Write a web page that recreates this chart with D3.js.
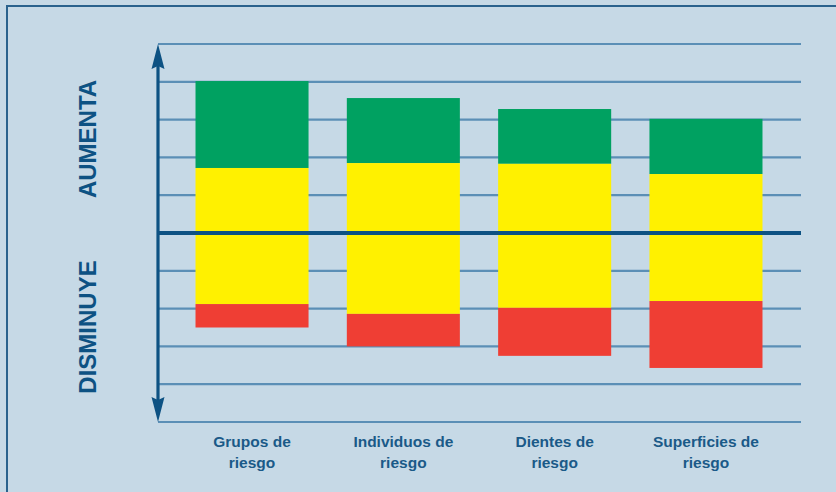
<!DOCTYPE html>
<html>
<head>
<meta charset="utf-8">
<script src="https://cdn.jsdelivr.net/npm/d3@7"></script>
<style>
	html, body { margin: 0; padding: 0; background: #fff; }
	svg { display: block; }
</style>
</head>
<body>
<svg width="836" height="492"></svg>
<script>
// values in grid units (one grid step = 1), 0 is the thick middle line
const categories = [['Grupos de', 'riesgo'], ['Individuos de', 'riesgo'], ['Dientes de', 'riesgo'], ['Superficies de', 'riesgo']];
const greenTop = [4.02, 3.57, 3.28, 3.02];
const yellowTop = [1.72, 1.85, 1.83, 1.56];
const redTop = [-1.88, -2.14, -1.98, -1.80];
const redBottom = [-2.5, -3.0, -3.25, -3.57];
const gridTicks = [-5, -4, -3, -2, -1, 0, 1, 2, 3, 4, 5];
const sideLabels = ['AUMENTA', 'DISMINUYE'];

const svg = d3.select('svg');
const dark = '#0d5283';
const gridColor = '#5b8fb6';

svg.append('rect')
	.attr('width', 836).attr('height', 492)
	.attr('fill', '#c6d9e6');
svg.append('path')
	.attr('d', 'M7,492V6H836')
	.attr('fill', 'none')
	.attr('stroke', '#2a628d')
	.attr('stroke-width', 2);

const x = d3.scaleBand()
	.domain(d3.range(categories.length))
	.range([157, 801])
	.paddingInner(0.253)
	.paddingOuter(0.2545);
const y = d3.scaleLinear().domain([-5, 5]).range([422, 44]);

// grid
svg.append('g')
	.selectAll('line')
	.data(gridTicks.filter(d => d !== 0))
	.join('line')
	.attr('x1', 158).attr('x2', 801)
	.attr('y1', d => y(d)).attr('y2', d => y(d))
	.attr('stroke', gridColor)
	.attr('stroke-width', 2.2);

// bars
const bars = svg.append('g');
const segs = [];
categories.forEach((c, i) => {
	segs.push({i, top: greenTop[i], bottom: yellowTop[i], color: '#00a161'});
	segs.push({i, top: yellowTop[i], bottom: redTop[i], color: '#fff100'});
	segs.push({i, top: redTop[i], bottom: redBottom[i], color: '#ef3e34'});
});
bars.selectAll('rect')
	.data(segs)
	.join('rect')
	.attr('x', d => x(d.i))
	.attr('width', x.bandwidth())
	.attr('y', d => y(d.top))
	.attr('height', d => y(d.bottom) - y(d.top))
	.attr('fill', d => d.color);

// zero line
svg.append('line')
	.attr('x1', 158).attr('x2', 801)
	.attr('y1', y(0)).attr('y2', y(0))
	.attr('stroke', dark)
	.attr('stroke-width', 4);

// double arrow axis
svg.append('line')
	.attr('x1', 158).attr('x2', 158)
	.attr('y1', y(5) + 20).attr('y2', y(-5) - 20)
	.attr('stroke', dark)
	.attr('stroke-width', 3.2);
svg.append('path')
	.attr('d', `M158,${y(5)}L164.5,${y(5) + 25}L158,${y(5) + 22}L151.5,${y(5) + 25}Z`)
	.attr('fill', dark);
svg.append('path')
	.attr('d', `M158,${y(-5)}L164.5,${y(-5) - 25}L158,${y(-5) - 22}L151.5,${y(-5) - 25}Z`)
	.attr('fill', dark);

// side labels
const sideY = [139, 327];
sideLabels.forEach((t, i) => {
	svg.append('text')
		.attr('transform', `translate(95.5,${sideY[i]}) rotate(-90)`)
		.attr('text-anchor', 'middle')
		.attr('font-family', 'Liberation Sans, Arial, sans-serif')
		.attr('font-weight', 'bold')
		.attr('font-size', 24)
		.attr('fill', dark)
		.text(t);
});

// category labels
const cat = svg.append('g')
	.selectAll('text')
	.data(categories)
	.join('text')
	.attr('text-anchor', 'middle')
	.attr('font-family', 'Liberation Sans, Arial, sans-serif')
	.attr('font-weight', 'bold')
	.attr('font-size', 15.5)
	.attr('fill', '#1a5a88');
cat.each(function(d, i) {
	const t = d3.select(this);
	d.forEach((line, k) => {
		t.append('tspan')
			.attr('x', x(i) + x.bandwidth() / 2)
			.attr('y', 447 + k * 20.5)
			.text(line);
	});
});
</script>
</body>
</html>
